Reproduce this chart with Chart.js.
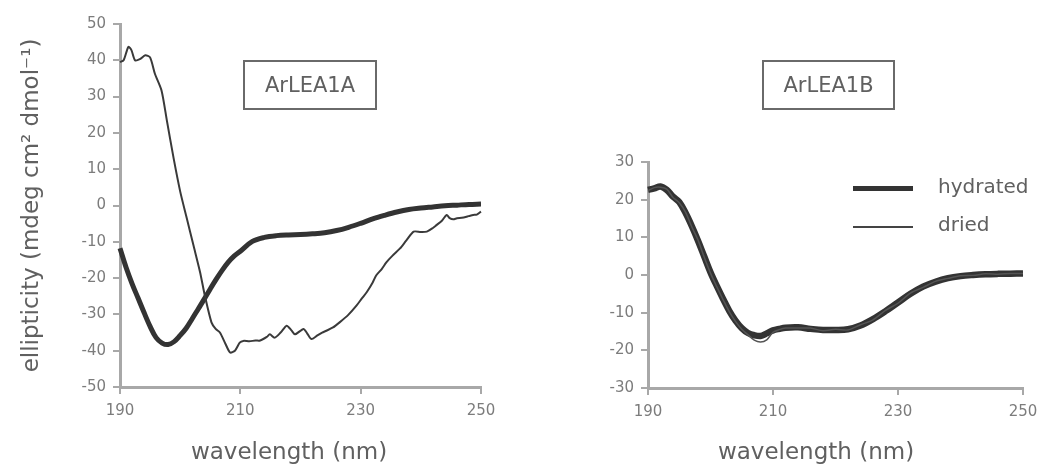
<!DOCTYPE html>
<html>
<head>
<meta charset="utf-8">
<script src="https://cdn.jsdelivr.net/npm/chart.js@4/dist/chart.umd.min.js"></script>
<style>
  body { margin: 0; background: #fff; font-family: "DejaVu Sans", sans-serif; }
  #wrap { position: relative; width: 1040px; height: 465px; overflow: hidden; }
  .panel { position: absolute; top: 0; width: 520px; height: 465px; }
  .tag { position: absolute; box-sizing: border-box; height: 50px; border: 2px solid #6a6a6a;
         color: #606060; font-size: 21px; text-align: center; line-height: 46px; }
  .leg { position: absolute; color: #606060; font-size: 20px; }
  .legline { position: absolute; width: 60px; }
  .xt { position: absolute; width: 260px; margin-left: -130px; text-align: center; color: #606060;
        font-size: 23px; top: 437px; line-height: 28px; }
</style>
</head>
<body>
<div id="wrap">
  <div class="panel" style="left:0"><canvas id="chartA"></canvas></div>
  <div class="panel" style="left:520px"><canvas id="chartB"></canvas></div>
  <div class="tag" style="left:243px; top:60px; width:134px;">ArLEA1A</div>
  <div class="tag" style="left:762px; top:60px; width:133px;">ArLEA1B</div>
  <div class="legline" style="left:853px; top:186px; height:5px; background:#333;"></div>
  <div class="leg" style="left:938px; top:174px;">hydrated</div>
  <div class="legline" style="left:853px; top:226px; height:2px; background:#444;"></div>
  <div class="leg" style="left:938px; top:212px;">dried</div>
  <div class="xt" style="left:289px;">wavelength (nm)</div>
  <div class="xt" style="left:816px;">wavelength (nm)</div>
</div>
<script>
// ArLEA1A, hydrated (thick)
const wlA_hyd = [190, 191, 192, 193, 194, 195, 196, 197, 198, 199, 200, 201, 202, 203, 204, 205, 206, 207, 208, 209, 210,
  212, 214, 216, 218, 220, 222, 224, 226, 228, 230, 232, 234, 236, 238, 240, 242, 244, 246, 248, 250];
const valA_hyd = [-11.8, -17, -21.5, -25.5, -29.5, -33.3, -36.4, -37.9, -38.3, -37.5, -35.8, -33.8, -31.2, -28.5, -25.8, -23, -20.3, -17.8, -15.6, -13.9, -12.6,
  -9.9, -8.8, -8.3, -8.1, -8, -7.8, -7.5, -6.9, -6, -4.9, -3.7, -2.7, -1.8, -1.1, -0.7, -0.4, -0.1, 0.1, 0.3, 0.4];

// ArLEA1A, dried (thin)
const wlA_dry = [190, 190.6, 191.4, 191.9, 192.5, 193.3, 194.2, 195, 195.8, 196.9, 197.8, 198.9, 200, 201.1, 202.2, 203.3, 204.1,
  205.2, 205.9, 206.6, 207.5, 208.3, 209.1, 209.9, 210.5, 211.5, 212.5, 213.3, 214.4, 214.9, 215.7, 216.7, 217.7, 218.5, 219.1, 220.5, 221.1, 221.8,
  222.8, 223.6, 224.3, 225.4, 226.5, 227.9, 229.3, 230.2, 231, 232, 232.6, 233.5, 234.3, 235.3, 236.5, 237.6, 238.8, 240, 241, 242, 242.6,
  243.5, 244.3, 244.8, 245.4, 246, 246.8, 247.6, 248.2, 248.7, 249.3, 250];
const valA_dry = [39.5, 40, 43.7, 42.8, 40, 40.3, 41.4, 40.8, 36.3, 31.7, 23.3, 13.1, 3.9, -3.5, -10.9, -18.3, -24.8,
  -32.2, -34, -35, -38, -40.5, -40, -37.8, -37.3, -37.4, -37.2, -37.2, -36.2, -35.5, -36.4, -35, -33.1, -34.4, -35.5, -34, -35.2, -36.8,
  -35.8, -35, -34.5, -33.6, -32.2, -30.2, -27.6, -25.6, -23.9, -21.2, -19.2, -17.5, -15.6, -13.8, -11.9, -9.6, -7.2, -7.3, -7.2, -6.2, -5.4,
  -4.2, -2.6, -3.5, -3.8, -3.5, -3.4, -3.1, -2.8, -2.6, -2.5, -1.7];

// ArLEA1B, hydrated and dried nearly overlap
const wlB = [190, 191, 192, 193, 194, 195, 196, 197, 198, 199, 200, 201, 202, 203, 204, 205, 206, 207, 208, 209, 210, 211, 212,
  214, 216, 218, 220, 222, 224, 226, 228, 230, 232, 234, 236, 238, 240, 242, 244, 246, 248, 250];
const valB_hyd = [22.6, 23, 23.5, 22.6, 20.8, 19.4, 16.5, 13, 9.1, 4.9, 0.7, -2.9, -6.3, -9.5, -12.1, -14.1, -15.4, -16, -16.2, -15.5, -14.7, -14.3, -14,
  -13.9, -14.3, -14.6, -14.6, -14.4, -13.4, -11.7, -9.6, -7.3, -5, -3.1, -1.8, -0.85, -0.3, 0, 0.2, 0.3, 0.35, 0.4];
const valB_dry = [22.4, 23.2, 23.3, 22.8, 20.6, 19.2, 16.7, 12.8, 9.3, 4.7, 0.5, -3.1, -6.5, -9.7, -12.3, -14.4, -15.9, -17.3, -17.8, -17.2, -15.2, -14.5, -14.1,
  -14.1, -14.1, -14.8, -14.4, -14.6, -13.2, -11.9, -9.4, -7.5, -4.8, -3.3, -1.7, -0.9, -0.2, -0.1, 0.3, 0.2, 0.4, 0.4];

const xTicks = [190, 210, 230, 250];

const axisGrey = '#a8a8a8';
const tickGrey = '#7c7c7c';
const titleGrey = '#606060';

function pts(xs, ys) { return xs.map((x, i) => ({ x: x, y: ys[i] })); }

function makeScales(yMin, yMax, yWidth, xHeight, yTitle) {
  return {
    x: {
      type: 'linear', min: 190, max: 250,
      afterBuildTicks: s => { s.ticks = xTicks.map(v => ({ value: v })); },
      afterFit: s => { s.height = xHeight; s.paddingLeft = 0; s.paddingRight = 0; },
      grid: { drawOnChartArea: false, drawTicks: true, tickLength: 7, color: axisGrey, lineWidth: 2 },
      border: { color: axisGrey, width: 3 },
      ticks: { color: tickGrey, padding: 8, font: { family: 'DejaVu Sans', size: 15 } }
    },
    y: {
      min: yMin, max: yMax,
      ticks: { stepSize: 10, color: tickGrey, padding: 7, font: { family: 'DejaVu Sans', size: 15 } },
      afterFit: s => { s.width = yWidth; s.paddingTop = 0; s.paddingBottom = 0; },
      grid: { drawOnChartArea: false, drawTicks: true, tickLength: 7, color: axisGrey, lineWidth: 2 },
      border: { color: axisGrey, width: 3 },
      title: { display: !!yTitle, text: yTitle || '', color: titleGrey, padding: { top: 18, bottom: 0 },
               font: { family: 'DejaVu Sans', size: 23 } }
    }
  };
}

const common = {
  responsive: false,
  animation: false,
  plugins: { legend: { display: false }, tooltip: { enabled: false } },
  elements: { point: { radius: 0 } }
};

function sizeCanvas(id) {
  const c = document.getElementById(id);
  c.width = 520; c.height = 465;
  return c.getContext('2d');
}

new Chart(sizeCanvas('chartA'), {
  type: 'line',
  data: {
    datasets: [
      { label: 'dried', data: pts(wlA_dry, valA_dry), borderColor: '#3a3a3a', borderWidth: 2, tension: 0.25, clip: 6 },
      { label: 'hydrated', data: pts(wlA_hyd, valA_hyd), borderColor: '#333', borderWidth: 5, tension: 0.35, clip: 6 }
    ]
  },
  options: Object.assign({}, common, {
    layout: { padding: { left: 0, top: 24, right: 39, bottom: 0 } },
    scales: makeScales(-50, 50, 120, 78, 'ellipticity (mdeg cm² dmol⁻¹)')
  })
});

new Chart(sizeCanvas('chartB'), {
  type: 'line',
  data: {
    datasets: [
      { label: 'dried', data: pts(wlB, valB_dry), borderColor: '#555', borderWidth: 1.5, tension: 0.3, clip: 6 },
      { label: 'hydrated', data: pts(wlB, valB_hyd), borderColor: '#333', borderWidth: 6.5, tension: 0.35, clip: 6 }
    ]
  },
  options: Object.assign({}, common, {
    layout: { padding: { left: 0, top: 162, right: 17, bottom: 0 } },
    scales: makeScales(-30, 30, 128, 77, '')
  })
});
</script>
</body>
</html>
